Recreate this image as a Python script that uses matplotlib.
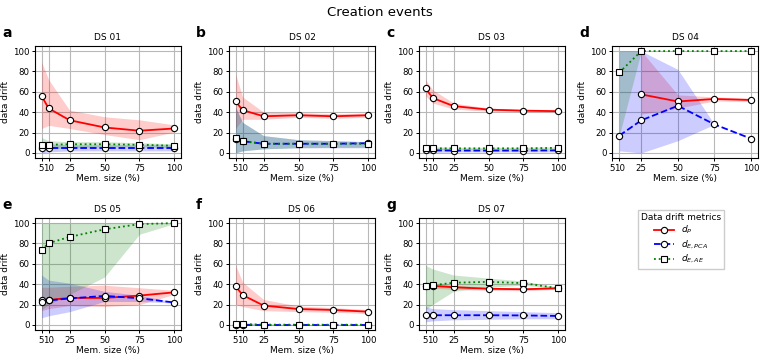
import numpy as np
import matplotlib
matplotlib.use("Agg")
import matplotlib.pyplot as plt
from matplotlib.lines import Line2D

nan = np.nan

mem_size = [5, 10, 25, 50, 75, 100]
datasets = ["DS 01", "DS 02", "DS 03", "DS 04", "DS 05", "DS 06", "DS 07"]
panel_letters = ["a", "b", "c", "d", "e", "f", "g"]
metric_labels = ["$d_P$", "$d_{E,PCA}$", "$d_{E,AE}$"]

# d_P (mean, lower, upper of band) per dataset
dp_mean = [
    [55.8, 43.8, 32.1, 25.0, 21.8, 24.0],
    [50.6, 42.0, 36.0, 37.0, 36.0, 37.0],
    [63.4, 54.0, 46.0, 42.5, 41.5, 41.0],
    [nan, nan, 57.5, 50.5, 53.0, 52.0],
    [24.5, 24.5, 26.5, 26.5, 28.8, 32.0],
    [38.0, 29.3, 19.0, 15.6, 14.7, 13.0],
    [37.8, 38.4, 37.0, 35.5, 35.0, 36.0],
]
dp_low = [
    [24, 27, 24, 18, 13, 20.5],
    [24, 33, 33, 35, 34, 35],
    [56, 49, 43, 41, 40.5, 40],
    [nan, nan, 38, 44, 51, 50.5],
    [14, 16, 19, 18, 20, 30],
    [20, 18, 14, 13, 12.5, 11],
    [35, 36, 35, 34, 33.5, 35],
]
dp_high = [
    [89, 72, 42, 35.5, 32.5, 27.5],
    [77, 55, 40, 39.5, 38.5, 39],
    [72, 62, 49, 44, 42.5, 42],
    [nan, nan, 100, 57, 55, 53.5],
    [37, 37, 38, 39, 36.5, 34],
    [58.5, 42, 25, 18.5, 17, 15],
    [40, 40.5, 39, 37, 36.5, 37],
]

# d_E,PCA
pca_mean = [
    [5, 5, 5, 5, 5, 5],
    [14, 11.5, 9, 9, 9, 9.5],
    [2.5, 2.5, 2.3, 2.3, 2.3, 2.5],
    [nan, 17, 32, 46.3, 28, 14],
    [22.5, 24, 26, 28.5, 26.2, 22],
    [0, 0, 0, 0, 0, 0],
    [9.5, 9.5, 9.5, 9.5, 9.3, 8.8],
]
pca_low = [
    [0, 1, 2, 2, 2, 2],
    [0, 2, 4, 5, 5, 5],
    [0, 0.5, 1, 1, 1, 1],
    [nan, 2, 0, 12, 28, 14],
    [7, 9, 13, 23, 23, 21.5],
    [0, 0, 0, 0, 0, 0],
    [3, 4, 5, 5.5, 6, 6],
]
pca_high = [
    [11, 9, 8, 8, 8, 8],
    [45, 30, 17, 13, 12, 11],
    [7, 5, 4, 4, 4, 4],
    [nan, 100, 100, 82, 28, 14],
    [49, 44, 41, 33, 29, 22.5],
    [1, 1, 0.5, 0.5, 0.5, 0.5],
    [18, 16, 15, 14, 13, 12],
]

# d_E,AE
ae_mean = [
    [8, 8, 8.5, 8.5, 8, 7],
    [14.5, 11.5, 9, 9, 9, 9],
    [5, 4.5, 4.5, 4.5, 4.5, 5],
    [nan, 79, 100, 100, 100, 100],
    [73.5, 80.3, 86.4, 93.9, 99, 100],
    [0.8, 0.8, 0.3, 0.2, 0.2, 0.2],
    [38.4, 39, 41.4, 42.3, 41, 36],
]
ae_low = [
    [3, 4, 5, 6, 6, 5],
    [0, 2, 4, 5, 5.5, 5.5],
    [2, 3, 3.5, 3.5, 3.5, 4],
    [nan, 17, 100, 100, 100, 100],
    [15, 20, 30, 47, 89, 99.5],
    [0, 0, 0, 0, 0, 0],
    [15, 20, 33, 37, 39, 35.5],
]
ae_high = [
    [15, 12, 11, 11, 10, 9],
    [44, 30, 17, 13, 12, 11],
    [7, 6, 5.5, 5.5, 5.5, 6],
    [nan, 100, 100, 100, 100, 100],
    [100, 100, 100, 100, 100, 100],
    [3, 2.5, 1, 0.5, 0.5, 0.5],
    [58.5, 55, 49, 46, 43, 37],
]

W, H = 760, 356
fig = plt.figure(figsize=(W / 100, H / 100), dpi=100)

col_left = [35, 229, 419, 612]
row_top = [46, 218]
ax_w, ax_h = 146, 112

FS_T = 6.5
FS_TICK = 6.2

styles = [
    dict(color="red", ls="-", marker="o"),
    dict(color="blue", ls="--", marker="o"),
    dict(color="green", ls=":", marker="s"),
]

x = np.array(mem_size, dtype=float)
for i, name in enumerate(datasets):
    r, c = divmod(i, 4)
    l = col_left[c]
    t = row_top[r]
    ax = fig.add_axes([l / W, 1 - (t + ax_h) / H, ax_w / W, ax_h / H])
    series = [
        (dp_mean[i], dp_low[i], dp_high[i]),
        (pca_mean[i], pca_low[i], pca_high[i]),
        (ae_mean[i], ae_low[i], ae_high[i]),
    ]
    for (m, lo, hi), st in zip(series, styles):
        ax.fill_between(x, np.array(lo, float), np.array(hi, float),
                        color=st["color"], alpha=0.2, linewidth=0)
    for (m, lo, hi), st in zip(series, styles):
        ax.plot(x, np.array(m, float), color=st["color"], ls=st["ls"],
                lw=1.3, marker=st["marker"], ms=4.5, mfc="white",
                mec="black", mew=0.8)
    ax.set_ylim(-5, 105)
    if name == "DS 04":
        ax.set_xlim(5, 104.75)
    else:
        ax.set_xlim(0.25, 104.75)
    ax.set_xticks(mem_size)
    ax.set_xticklabels([str(v) for v in mem_size])
    ax.set_yticks([0, 20, 40, 60, 80, 100])
    ax.grid(True, color="#b8b8b8", lw=0.8)
    ax.set_axisbelow(True)
    ax.tick_params(labelsize=FS_TICK, length=2.5, width=0.7, pad=1.5)
    for sp in ax.spines.values():
        sp.set_linewidth(0.8)
    ax.set_title(name, fontsize=FS_T, pad=4)
    ax.set_xlabel("Mem. size (%)", fontsize=FS_T, labelpad=1)
    ax.set_ylabel("data drift", fontsize=FS_T, labelpad=2)
    fig.text((l - 33) / W, 1 - (t - 13) / H, panel_letters[i],
             fontsize=10, fontweight="bold", ha="left", va="center")

handles = [Line2D([], [], color=st["color"], ls=st["ls"], lw=1.3,
                  marker=st["marker"], ms=4.5, mfc="white", mec="black",
                  mew=0.8) for st in styles]
fig.legend(handles, metric_labels, title="Data drift metrics",
           loc="upper center", bbox_to_anchor=(681 / W, 1 - 205 / H),
           fontsize=6.5, title_fontsize=6.5, frameon=True, framealpha=1,
           edgecolor="#cccccc", fancybox=False, handlelength=2.2,
           borderpad=0.35, labelspacing=0.25)

fig.suptitle("Creation events", fontsize=9.5, y=1 - 12 / H, va="center")

fig.savefig("out.png", dpi=100)
